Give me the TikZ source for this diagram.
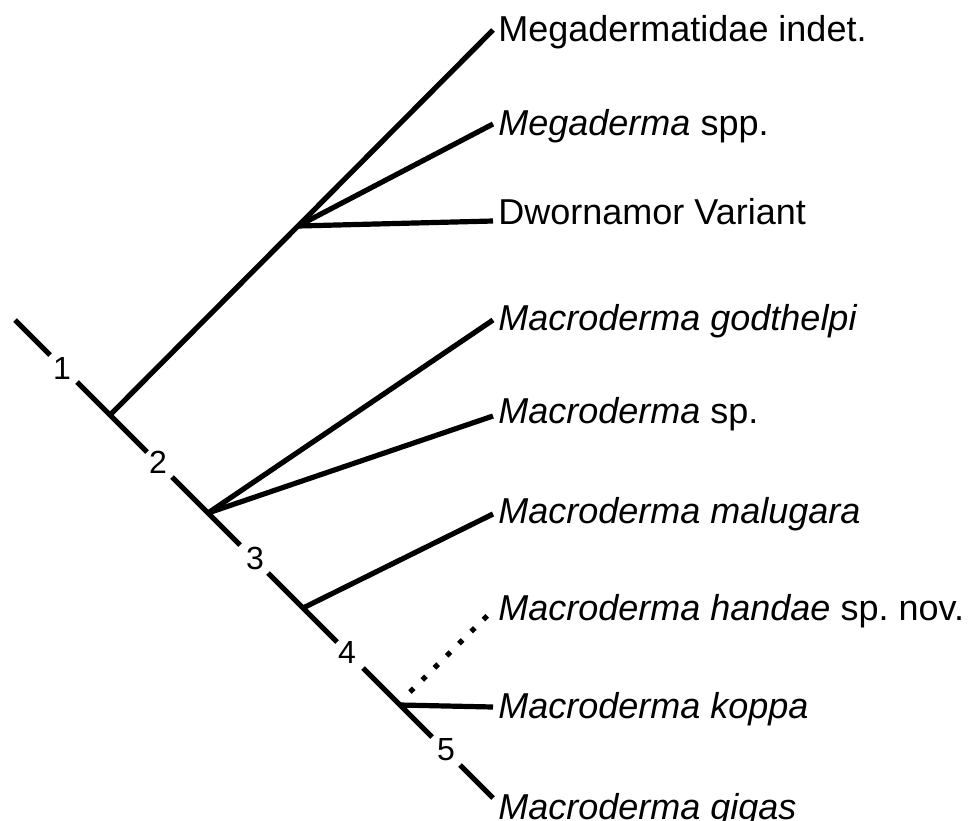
\documentclass[tikz,border=0pt]{standalone}
\usepackage{fontspec}
\setmainfont{Liberation Sans}
\begin{document}
\begin{tikzpicture}[x=0.5pt,y=-0.5pt,
  br/.style={line width=2.6pt},
  dotbr/.style={line width=2.6pt,dash pattern=on 2.6pt off 6pt},
  taxon/.style={anchor=base west,inner sep=0pt,font=\fontsize{18}{20}\selectfont},
  num/.style={anchor=center,inner sep=0pt,font=\fontsize{16}{18}\selectfont}]
\useasboundingbox (0,0) rectangle (968,820);
% spine coordinates (y = x + 305)
\coordinate (s0a) at (15,320);
\coordinate (s0b) at (50,355);
\coordinate (s1a) at (77,382);
\coordinate (n1) at (110,415);
\coordinate (s1b) at (147,452);
\coordinate (s2a) at (172,477);
\coordinate (n2) at (208,513);
\coordinate (s2b) at (240,545);
\coordinate (s3a) at (268,573);
\coordinate (n3) at (303,608);
\coordinate (s3b) at (337,642);
\coordinate (s4a) at (363,668);
\coordinate (n4) at (400,705);
\coordinate (s4b) at (432,737);
\coordinate (s5a) at (460,765);
\coordinate (s5b) at (493,798);
\coordinate (m) at (298,226);
% tip coordinates
\coordinate (t1) at (493,30);
\coordinate (t2) at (493,124);
\coordinate (t3) at (493,221);
\coordinate (t4) at (493,320);
\coordinate (t5) at (493,416);
\coordinate (t6) at (493,514);
\coordinate (d0) at (410,692);
\coordinate (t7) at (490,613);
\coordinate (t8) at (493,707);
% spine
\draw[br] (s0a) -- (s0b);
\draw[br] (s1a) -- (s1b);
\draw[br] (s2a) -- (s2b);
\draw[br] (s3a) -- (s3b);
\draw[br] (s4a) -- (s4b);
\draw[br] (s5a) -- (s5b);
% branches
\draw[br] (n1) -- (t1);
\draw[br] (m) -- (t2);
\draw[br] (m) -- (t3);
\draw[br] (n2) -- (t4);
\draw[br] (n2) -- (t5);
\draw[br] (n3) -- (t6);
\draw[dotbr] (d0) -- (t7);
\draw[br] (n4) -- (t8);
% numbers
\node[num] (l1) at (62,368) {1};
\node[num] (l2) at (158,462) {2};
\node[num] (l3) at (255,558) {3};
\node[num] (l4) at (347,652) {4};
\node[num] (l5) at (446,750) {5};
% taxa
\node[taxon] (a1) at (498,41) {Megadermatidae indet.};
\node[taxon] (a2) at (498,135) {\textit{Megaderma} spp.};
\node[taxon] (a3) at (498,224) {Dwornamor Variant};
\node[taxon] (a4) at (498,330) {\textit{Macroderma godthelpi}};
\node[taxon] (a5) at (498,423) {\textit{Macroderma} sp.};
\node[taxon] (a6) at (498,523) {\textit{Macroderma malugara}};
\node[taxon] (a7) at (498,620) {\textit{Macroderma handae} sp.\ nov.};
\node[taxon] (a8) at (498,718) {\textit{Macroderma koppa}};
\node[taxon] (a9) at (498,819) {\textit{Macroderma gigas}};
\end{tikzpicture}
\end{document}
